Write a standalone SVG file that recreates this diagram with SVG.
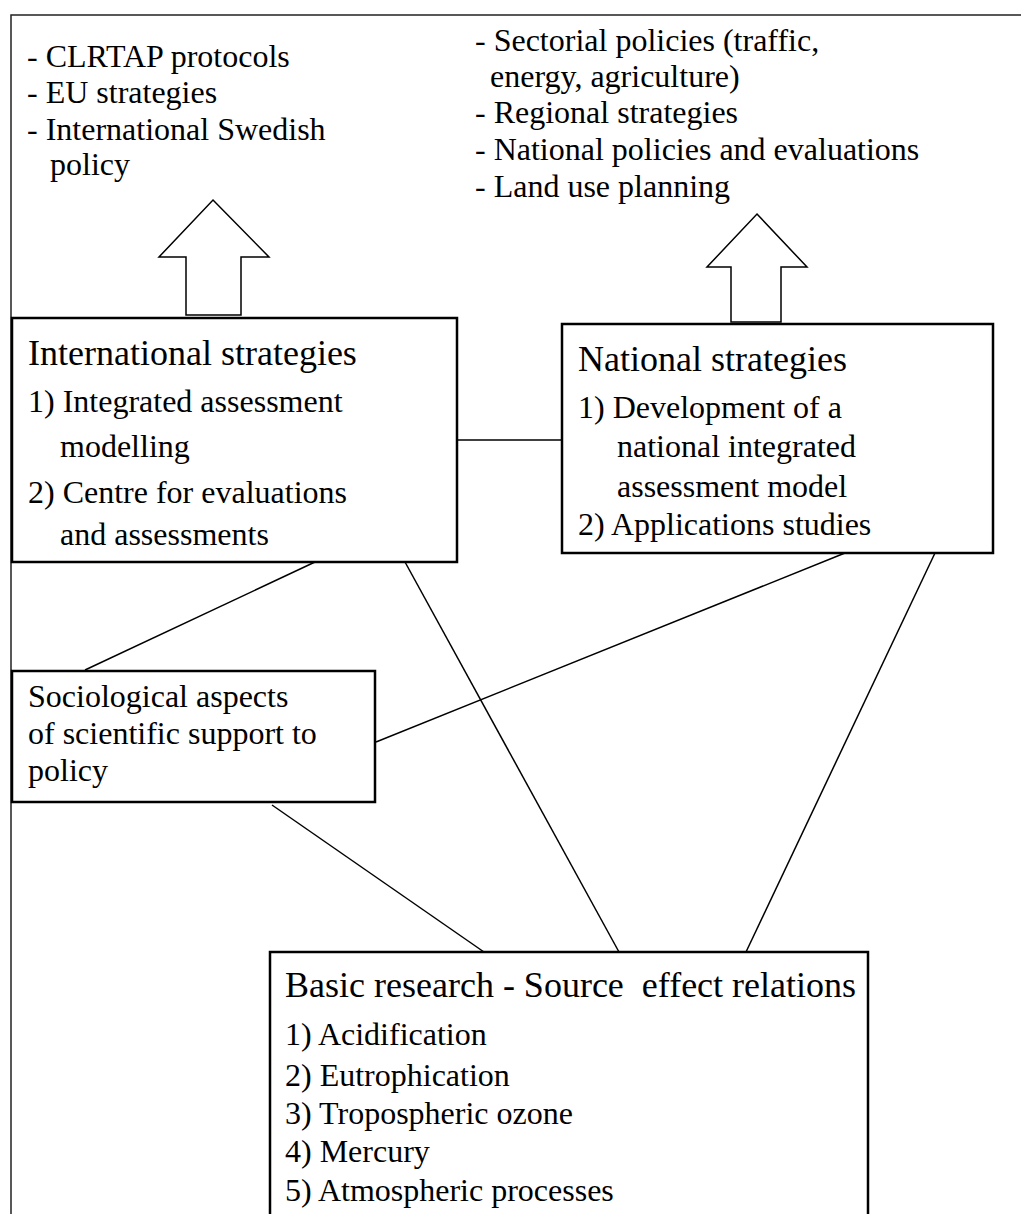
<svg xmlns="http://www.w3.org/2000/svg" width="1021" height="1214" viewBox="0 0 1021 1214">
<style>
text{fill:#000;font-size:32px}
.h{font-size:36px}
.box{fill:#fff;stroke:#000;stroke-width:2.5}
.arrow{fill:#fff;stroke:#000;stroke-width:1.5;stroke-linejoin:miter}
.conn line{stroke:#000;stroke-width:1.5}
.frame{fill:none;stroke:#222;stroke-width:1.5}
</style>
<rect width="1021" height="1214" fill="#fff"/>
<path class="frame" d="M11,1214 V15 H1021"/>
<g font-family="Liberation Serif, Tinos, Times New Roman, Times, serif">
<g id="intl-outputs">
<text x="27" y="67">- CLRTAP protocols</text>
<text x="27" y="103">- EU strategies</text>
<text x="27" y="140">- International Swedish</text>
<text x="50" y="175">policy</text>
</g>
<g id="national-outputs">
<text x="475" y="51">- Sectorial policies (traffic,</text>
<text x="490" y="87">energy, agriculture)</text>
<text x="475" y="123">- Regional strategies</text>
<text x="475" y="160">- National policies and evaluations</text>
<text x="475" y="197">- Land use planning</text>
</g>
<g id="arrows">
<polygon class="arrow" points="213,200 269,257 241,257 241,315 186,315 186,257 159,257"/>
<polygon class="arrow" points="757,214 807,267 781,267 781,322 731,322 731,267 707,267"/>
</g>
<g class="conn" id="connectors">
<line x1="457" y1="440" x2="562" y2="440"/>
<line x1="315" y1="562" x2="85" y2="670"/>
<line x1="405" y1="562" x2="619" y2="952"/>
<line x1="845" y1="553" x2="376" y2="742"/>
<line x1="935" y1="553" x2="746" y2="952"/>
<line x1="272" y1="805" x2="484" y2="952"/>
</g>
<g id="international">
<rect class="box" x="12" y="318" width="445" height="244"/>
<text class="h" x="28" y="365">International strategies</text>
<text x="28" y="412">1) Integrated assessment</text>
<text x="60" y="457">modelling</text>
<text x="28" y="503">2) Centre for evaluations</text>
<text x="60" y="545">and assessments</text>
</g>
<g id="national">
<rect class="box" x="562" y="324" width="431" height="229"/>
<text class="h" x="578" y="371">National strategies</text>
<text x="578" y="418">1) Development of a</text>
<text x="617" y="457">national integrated</text>
<text x="617" y="497">assessment model</text>
<text x="578" y="535">2) Applications studies</text>
</g>
<g id="sociological">
<rect class="box" x="12" y="671" width="363" height="131"/>
<text x="28" y="707">Sociological aspects</text>
<text x="28" y="744">of scientific support to</text>
<text x="28" y="781">policy</text>
</g>
<g id="basic">
<rect class="box" x="270" y="952" width="598" height="290"/>
<text class="h" x="285" y="997" xml:space="preserve">Basic research - Source  effect relations</text>
<text x="285" y="1045">1) Acidification</text>
<text x="285" y="1086">2) Eutrophication</text>
<text x="285" y="1124">3) Tropospheric ozone</text>
<text x="285" y="1162">4) Mercury</text>
<text x="285" y="1201">5) Atmospheric processes</text>
</g>
</g>
</svg>
